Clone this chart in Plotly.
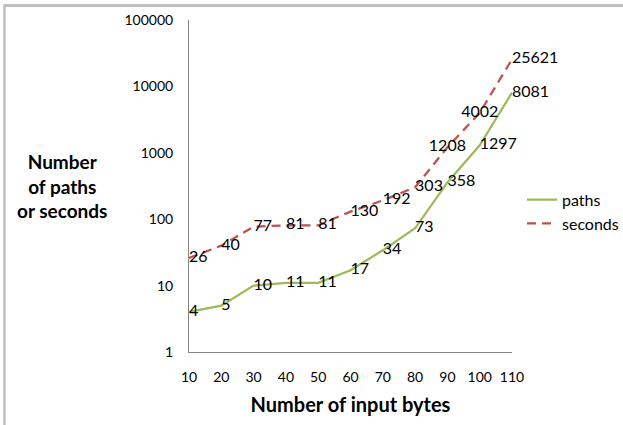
import plotly.graph_objects as go

bytes_x = [10, 20, 30, 40, 50, 60, 70, 80, 90, 100, 110]
paths = [4, 5, 10, 11, 11, 17, 34, 73, 358, 1297, 8081]
seconds = [26, 40, 77, 81, 81, 130, 192, 303, 1208, 4002, 25621]
y_ticks = [1, 10, 100, 1000, 10000, 100000]

FONT = "Lato, Calibri, Carlito, sans-serif"
GREEN = "#9BBB59"
RED = "#C0504D"

sec_pos = ["middle right"] * len(seconds)
sec_pos[8] = "middle center"
sec_pos[9] = "middle center"

fig = go.Figure()
fig.add_trace(go.Scatter(
    x=bytes_x, y=paths, name="paths", mode="lines+text",
    line=dict(color=GREEN, width=2.25),
    text=[str(v) for v in paths], textposition="middle right",
    textfont=dict(family=FONT, size=16, color="#000000"),
    cliponaxis=False,
))
fig.add_trace(go.Scatter(
    x=bytes_x, y=seconds, name="seconds", mode="lines+text",
    line=dict(color=RED, width=2.25, dash="9px,6px"),
    text=[str(v) for v in seconds], textposition=sec_pos,
    textfont=dict(family=FONT, size=16, color="#000000"),
    cliponaxis=False,
))

fig.update_layout(
    width=623, height=425,
    margin=dict(l=189, r=111, t=20, b=73, autoexpand=False),
    paper_bgcolor="white", plot_bgcolor="white",
    font=dict(family=FONT, size=14, color="#000000"),
    showlegend=True,
    legend=dict(x=(522 - 189) / 323, y=0.51, xanchor="left", yanchor="top",
                font=dict(family=FONT, size=16), bgcolor="rgba(0,0,0,0)",
                itemwidth=30, tracegroupgap=0),
    xaxis=dict(
        range=[10, 110], tickvals=bytes_x, ticktext=[str(v) for v in bytes_x],
        showgrid=False, zeroline=False, showline=True, linecolor="#868686",
        linewidth=1, ticks="", ticklabelstandoff=12,
        tickfont=dict(family=FONT, size=14),
        title=dict(text="<b>Number of input bytes</b>", standoff=14,
                   font=dict(family=FONT, size=20)),
    ),
    yaxis=dict(
        type="log", range=[0, 5], tickvals=y_ticks,
        ticktext=[str(v) for v in y_ticks],
        showgrid=False, zeroline=False, showline=True, linecolor="#868686",
        linewidth=1, ticks="", ticklabelstandoff=12,
        tickfont=dict(family=FONT, size=14),
    ),
    annotations=[
        dict(
            text="<b>Number<br>of paths<br>or seconds</b>", xref="paper", yref="paper",
            x=(62 - 189) / 323, y=(352 - 186) / 332, xanchor="center", yanchor="middle",
            showarrow=False, align="center", font=dict(family=FONT, size=19),
        ),
        dict(
            text=" ", xref="paper", yref="paper",
            x=(4 - 189) / 323, y=1 + (20 - 4) / 332, xanchor="left", yanchor="top",
            showarrow=False, width=619, height=2, borderpad=0, borderwidth=0,
            bgcolor="#BFBFBF", font=dict(size=1),
        ),
    ],
    shapes=[
        dict(type="line", xref="paper", yref="paper", layer="above",
             x0=(4.5 - 189) / 323, x1=(4.5 - 189) / 323,
             y0=1 + (20 - 5) / 332, y1=-90 / 332,
             line=dict(color="#BFBFBF", width=2.5)),
        dict(type="rect", xref="paper", yref="paper", layer="above",
             x0=(3.5 - 189) / 323, x1=(623 - 189) / 323,
             y0=1 + (20 - 4) / 332, y1=1 + (20 - 7) / 332,
             line=dict(width=0), fillcolor="#BFBFBF"),
    ],
)

fig.write_html("out.html", config={"displayModeBar": False},
               post_script="document.body.style.margin='0';")
